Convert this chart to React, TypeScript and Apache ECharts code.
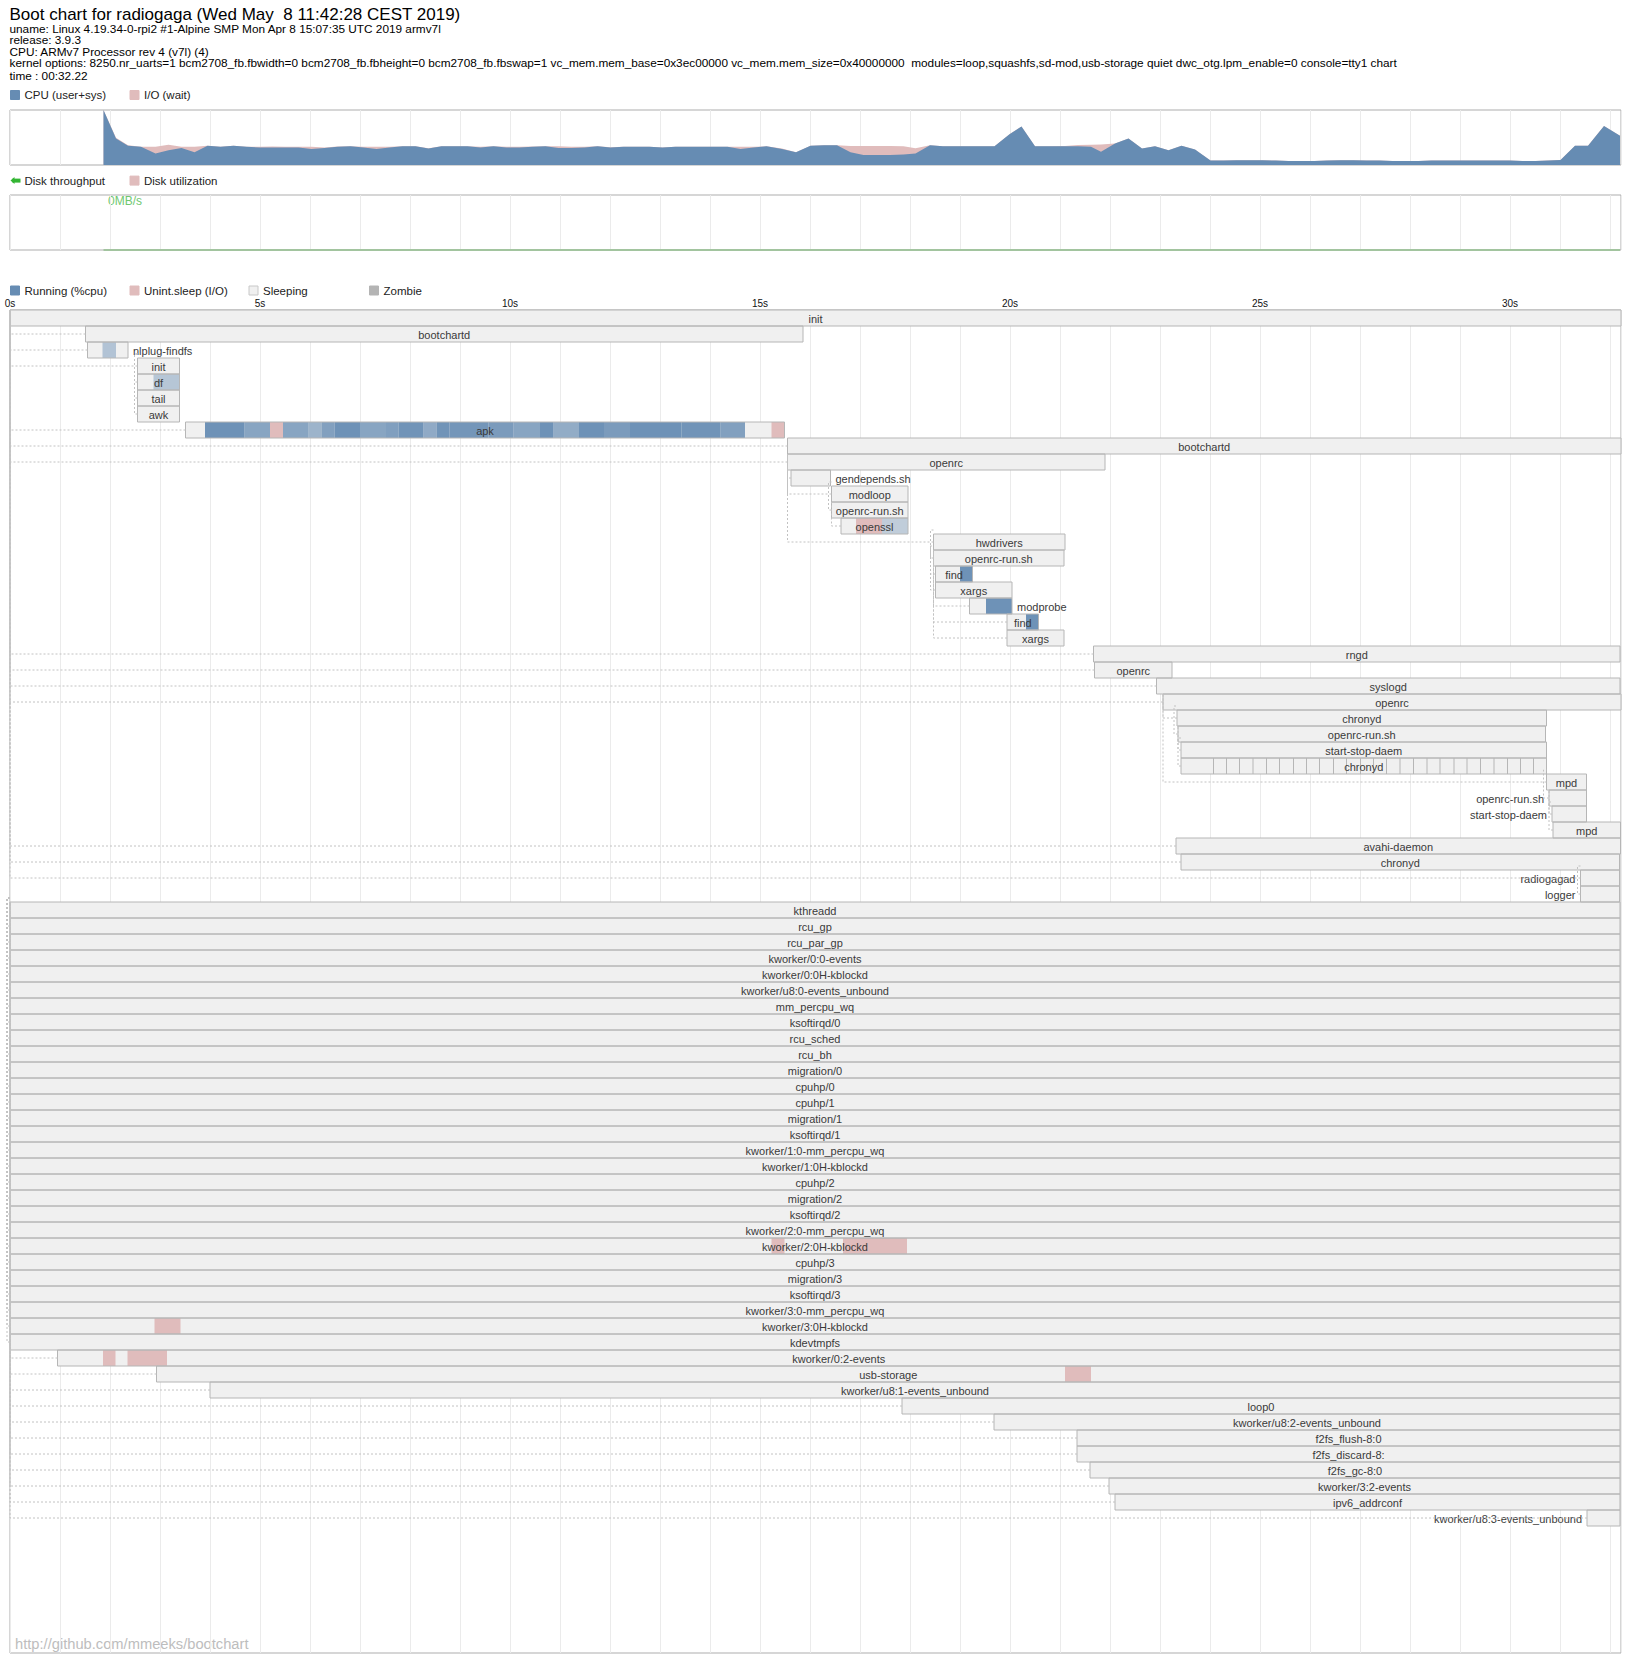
import React, { useEffect, useRef } from 'react';
import * as echarts from 'echarts';

const FONT = '"Liberation Sans", Arial, sans-serif';
const DURATION = 32.22;

const titleText = 'Boot chart for radiogaga (Wed May  8 11:42:28 CEST 2019)';
const headerLines = [
  'uname: Linux 4.19.34-0-rpi2 #1-Alpine SMP Mon Apr 8 15:07:35 UTC 2019 armv7l',
  'release: 3.9.3',
  'CPU: ARMv7 Processor rev 4 (v7l) (4)',
  'kernel options: 8250.nr_uarts=1 bcm2708_fb.fbwidth=0 bcm2708_fb.fbheight=0 bcm2708_fb.fbswap=1 vc_mem.mem_base=0x3ec00000 vc_mem.mem_size=0x40000000  modules=loop,squashfs,sd-mod,usb-storage quiet dwc_otg.lpm_enable=0 console=tty1 chart',
  'time : 00:32.22',
];
const cpuLegend = ['CPU (user+sys)', 'I/O (wait)'];
const diskLegend = ['Disk throughput', 'Disk utilization'];
const procLegend = ['Running (%cpu)', 'Unint.sleep (I/O)', 'Sleeping', 'Zombie'];
const footerText = 'http://github.com/mmeeks/bootchart';
const diskMaxLabel = '0MB/s';

// CPU samples (seconds, % user+sys, % iowait)
const sampleTimes = [
  1.87, 2.12, 2.36, 2.62, 2.91, 3.17, 3.43, 3.69, 3.95, 4.21,
  4.47, 4.73, 4.99, 5.25, 5.51, 5.77, 6.03, 6.29, 6.55, 6.81,
  7.07, 7.33, 7.59, 7.85, 8.11, 8.37, 8.63, 8.89, 9.15, 9.41,
  9.67, 9.93, 10.19, 10.45, 10.71, 10.97, 11.23, 11.49, 11.75, 12.01,
  12.27, 12.53, 12.79, 13.05, 13.31, 13.57, 13.83, 14.09, 14.35, 14.61,
  14.87, 15.13, 15.44, 15.72, 16.01, 16.28, 16.54, 16.81, 17.07, 17.34,
  17.6, 17.87, 18.11, 18.4, 18.66, 18.98, 19.3, 19.69, 19.99, 20.23,
  20.5, 20.78, 21.1, 21.36, 21.62, 21.82, 22.1, 22.37, 22.64, 22.9,
  23.17, 23.43, 23.7, 24.01, 24.27, 24.53, 24.79, 25.05, 25.31, 25.57,
  25.83, 26.09, 26.35, 26.61, 26.87, 27.13, 27.39, 27.65, 27.91, 28.17,
  28.43, 28.69, 28.95, 29.21, 29.47, 29.73, 29.99, 30.25, 30.51, 30.77,
  31.01, 31.3, 31.56, 31.88, 32.2,
];
const cpuUsage = [
  100, 48, 35, 33, 21, 27, 31, 23, 35, 33,
  35, 33, 32, 32, 32, 32, 29, 31, 33, 34,
  32, 29, 32, 34, 34, 30, 34, 34, 34, 32,
  34, 32, 32, 33, 34, 31, 31, 32, 34, 32,
  33, 33, 33, 32, 33, 33, 33, 33, 33, 29,
  32, 34, 29, 23, 35, 36, 36, 23, 18, 18,
  18, 19, 21, 36, 34, 34, 34, 34, 56, 70,
  34, 34, 34, 34, 33, 24, 39, 48, 30, 34,
  27, 35, 28, 8, 8, 8.5, 8.5, 8.5, 8, 7.5,
  7.5, 7.5, 8, 8.5, 8.5, 8, 8, 7.5, 7.5, 7.5,
  8, 8, 8, 8, 8, 8, 8, 7.5, 7.5, 8,
  9, 35, 35, 71, 53,
];
const ioWait = [
  0, 1.5, 1, 0, 12, 10, 2, 10, 0, 0,
  0, 0, 1, 1.5, 1, 1, 4, 1, 0.5, 0,
  1, 4, 1, 0, 0, 0.5, 0, 0, 0, 1,
  0, 1, 1, 0.5, 0, 3, 2, 1, 0, 0.5,
  0, 0, 0, 0, 0, 0, 0, 0, 0, 4,
  1, 0, 1, 0, 0, 0, 0, 11.5, 16.5, 16.5,
  16.5, 15, 9.5, 0, 0, 0, 0, 0, 0, 0,
  0, 0, 0.5, 2.5, 4, 13.5, 0, 0, 0, 0,
  0, 0, 0, 0, 0, 0, 0, 0, 0, 0,
  0, 0, 0, 0, 0, 0, 0, 0, 0, 0,
  0, 0, 0, 0, 0, 0, 0, 0, 0, 0,
  0, 0, 0, 0, 0,
];
const diskTimes = [1.87, 32.2];
const diskThroughput = [0, 0];

// process tree rows
const procNames = [
  'init', 'bootchartd', 'nlplug-findfs', 'init', 'df', 'tail', 'awk', 'apk', 'bootchartd', 'openrc',
  'gendepends.sh', 'modloop', 'openrc-run.sh', 'openssl', 'hwdrivers', 'openrc-run.sh', 'find', 'xargs', 'modprobe', 'find',
  'xargs', 'rngd', 'openrc', 'syslogd', 'openrc', 'chronyd', 'openrc-run.sh', 'start-stop-daem', 'chronyd', 'mpd',
  'openrc-run.sh', 'start-stop-daem', 'mpd', 'avahi-daemon', 'chronyd', 'radiogagad', 'logger', 'kthreadd', 'rcu_gp', 'rcu_par_gp',
  'kworker/0:0-events', 'kworker/0:0H-kblockd', 'kworker/u8:0-events_unbound', 'mm_percpu_wq', 'ksoftirqd/0', 'rcu_sched', 'rcu_bh', 'migration/0', 'cpuhp/0', 'cpuhp/1',
  'migration/1', 'ksoftirqd/1', 'kworker/1:0-mm_percpu_wq', 'kworker/1:0H-kblockd', 'cpuhp/2', 'migration/2', 'ksoftirqd/2', 'kworker/2:0-mm_percpu_wq', 'kworker/2:0H-kblockd', 'cpuhp/3',
  'migration/3', 'ksoftirqd/3', 'kworker/3:0-mm_percpu_wq', 'kworker/3:0H-kblockd', 'kdevtmpfs', 'kworker/0:2-events', 'usb-storage', 'kworker/u8:1-events_unbound', 'loop0', 'kworker/u8:2-events_unbound',
  'f2fs_flush-8:0', 'f2fs_discard-8:', 'f2fs_gc-8:0', 'kworker/3:2-events', 'ipv6_addrconf', 'kworker/u8:3-events_unbound',
];
const procStart = [
  0, 1.51, 1.55, 2.55, 2.55, 2.55, 2.55, 3.51, 15.55, 15.55,
  15.62, 16.43, 16.43, 16.62, 18.47, 18.47, 18.51, 18.51, 19.19, 19.94,
  19.94, 21.67, 21.69, 22.93, 23.06, 23.34, 23.36, 23.42, 23.42, 30.73,
  30.78, 30.84, 30.86, 23.32, 23.42, 31.41, 31.41, 0, 0, 0,
  0, 0, 0, 0, 0, 0, 0, 0, 0, 0,
  0, 0, 0, 0, 0, 0, 0, 0, 0, 0,
  0, 0, 0, 0, 0, 0.95, 2.93, 4.0, 17.84, 19.68,
  21.34, 21.34, 21.6, 21.98, 22.1, 31.54,
];
const procEnd = [
  32.22, 15.86, 2.36, 3.39, 3.39, 3.39, 3.39, 15.49, 32.22, 21.9,
  16.41, 17.96, 17.96, 17.96, 21.1, 21.08, 19.25, 20.04, 20.04, 20.57,
  21.08, 32.2, 23.24, 32.2, 32.22, 30.73, 30.71, 30.73, 30.73, 31.53,
  31.53, 31.53, 32.21, 32.21, 32.19, 32.19, 32.19, 32.2, 32.2, 32.2,
  32.2, 32.2, 32.2, 32.2, 32.2, 32.2, 32.2, 32.2, 32.2, 32.2,
  32.2, 32.2, 32.2, 32.2, 32.2, 32.2, 32.2, 32.2, 32.2, 32.2,
  32.2, 32.2, 32.2, 32.2, 32.2, 32.2, 32.2, 32.2, 32.2, 32.2,
  32.2, 32.2, 32.2, 32.2, 32.2, 32.2,
];
const procParent = [
  -1, 0, 0, 0, 3, 3, 3, 0, 0, 0,
  9, 9, 11, 12, 9, 14, 15, 15, 15, 15,
  15, 0, 0, 0, 0, 24, 25, 26, 27, 24,
  29, 30, 31, 0, 0, 0, 35, -1, 37, 37,
  37, 37, 37, 37, 37, 37, 37, 37, 37, 37,
  37, 37, 37, 37, 37, 37, 37, 37, 37, 37,
  37, 37, 37, 37, 37, 37, 37, 37, 37, 37,
  37, 37, 37, 37, 37, 37,
];
// running samples: [row, start, end, cpu fraction]
const runSegments = [
  [2, 1.85, 2.12, 0.45], [4, 2.87, 3.39, 0.42],
  [7, 3.9, 4.69, 0.95], [7, 4.69, 5.2, 0.75], [7, 5.46, 5.97, 0.75], [7, 5.97, 6.23, 0.6],
  [7, 6.23, 6.49, 0.8], [7, 6.49, 7.0, 0.95], [7, 7.0, 7.52, 0.75], [7, 7.52, 7.77, 0.82],
  [7, 7.77, 8.27, 0.92], [7, 8.27, 8.53, 0.7], [7, 8.53, 8.79, 0.92], [7, 8.79, 9.57, 0.9],
  [7, 9.57, 10.07, 0.85], [7, 10.07, 10.6, 0.75], [7, 10.6, 10.87, 0.95], [7, 10.87, 11.38, 0.68],
  [7, 11.38, 11.88, 0.95], [7, 11.88, 12.4, 0.85], [7, 12.4, 13.43, 0.95], [7, 13.43, 14.21, 0.92],
  [7, 14.21, 14.7, 0.8],
  [13, 17.44, 17.96, 0.35], [16, 19.0, 19.26, 0.95], [18, 19.52, 20.04, 0.95], [19, 20.32, 20.57, 0.95],
];
// uninterruptible sleep samples: [row, start, end]
const ioSegments = [
  [7, 5.2, 5.46], [7, 15.23, 15.49], [13, 16.92, 17.44], [58, 15.23, 15.49], [58, 16.66, 17.94],
  [63, 2.89, 3.41], [65, 1.86, 2.11], [65, 2.35, 3.14], [66, 21.1, 21.62],
];
const tickRow = 28;
const tickTimes = [
  24.07, 24.33, 24.59, 24.86, 25.13, 25.39, 25.67, 25.93, 26.19, 26.47,
  26.73, 27.01, 27.27, 27.53, 27.8, 28.07, 28.34, 28.6, 28.88, 29.14,
  29.41, 29.68, 29.95, 30.21, 30.47,
];

const CPU_BLUE = '#668cb3';
const IO_PINK = '#e0bcbc';
const SLEEP_FILL = '#f0f0f0';
const ZOMBIE_FILL = '#b4b4b4';
const PROC_BORDER = '#b6b6b6';
const GRID_BORDER = '#adadad';
const TICK_COLOR = '#ebebeb';
const DEP_COLOR = '#c2c2c2';
const LABEL_COLOR = '#3a3a3a';
const ROW_H = 16;
const PROC_TOP = 310;
const PROC_H = 1343;

let measureCtx: any = null;
function textWidth(s: string, size: number) {
  if (!measureCtx) measureCtx = document.createElement('canvas').getContext('2d');
  measureCtx.font = `${size}px ${FONT}`;
  return measureCtx.measureText(s).width;
}

function legendItems(labels: string[], xs: number[], y: number, colors: string[], kinds: string[]) {
  const els: any[] = [];
  labels.forEach((lab, i) => {
    if (kinds[i] === 'arrow') {
      els.push({ type: 'rect', shape: { x: xs[i] + 2, y: y - 2, width: 8, height: 4 }, style: { fill: colors[i] } });
      els.push({ type: 'polygon', shape: { points: [[xs[i], y], [xs[i] + 4, y - 3.5], [xs[i] + 4, y + 3.5]] }, style: { fill: colors[i] } });
    } else {
      els.push({ type: 'rect', shape: { x: xs[i], y: y - 4.5, width: 9, height: 9 }, style: { fill: colors[i], stroke: kinds[i] === 'sleep' ? '#c8c8c8' : colors[i], lineWidth: 1 } });
    }
    els.push({ type: 'text', x: xs[i] + 14, y, style: { text: lab, fill: '#222', fontSize: 11.5, fontFamily: FONT, align: 'left', verticalAlign: 'middle' } });
  });
  return els;
}

export default function App() {
  const ref = useRef<HTMLDivElement>(null);
  useEffect(() => {
    if (!ref.current) return;
    const chart = echarts.init(ref.current, null, { renderer: 'svg' });
    const legendX = [10.5, 130, 249, 369.5];

    const graphics: any[] = [
      { type: 'text', x: 9.5, y: 14, style: { text: titleText, fill: '#000', fontSize: 17, fontFamily: FONT, align: 'left', verticalAlign: 'middle' } },
      ...headerLines.map((t, i) => ({
        type: 'text', x: 9.5, y: [28.5, 40, 51.7, 63.4, 76][i],
        style: { text: t, fill: '#000', fontSize: 11.8, fontFamily: FONT, align: 'left', verticalAlign: 'middle' },
      })),
      ...legendItems(cpuLegend, legendX, 95, [CPU_BLUE, IO_PINK], ['box', 'box']),
      ...legendItems(diskLegend, legendX, 180.6, ['#33b533', IO_PINK], ['arrow', 'box']),
      ...legendItems(procLegend, legendX, 290.5, [CPU_BLUE, IO_PINK, SLEEP_FILL, ZOMBIE_FILL], ['box', 'box', 'sleep', 'box']),
      { type: 'text', x: 108, y: 200.5, style: { text: diskMaxLabel, fill: '#70c870', fontSize: 12, fontFamily: FONT, align: 'left', verticalAlign: 'middle' } },
      { type: 'text', x: 15, y: 1643.5, style: { text: footerText, fill: '#bdbdbd', fontSize: 14.7, fontFamily: FONT, align: 'left', verticalAlign: 'middle' } },
    ];

    const procData = procNames.map((n, i) => [procStart[i], procEnd[i], i]);
    const runData = runSegments.map((s) => [s[1], s[2], s[0], s[3]]);
    const ioData = ioSegments.map((s) => [s[1], s[2], s[0]]);
    const depData: number[][] = [];
    procParent.forEach((p, i) => {
      if (p >= 0) depData.push([procStart[i], procStart[p], i, p]);
    });
    const tickData = tickTimes.map((t) => [t, tickRow]);

    const option: any = {
      animation: false,
      backgroundColor: '#ffffff',
      grid: [
        { left: 10, top: 110, width: 1611, height: 55, show: true, borderColor: GRID_BORDER, borderWidth: 1 },
        { left: 10, top: 195, width: 1611, height: 55, show: true, borderColor: GRID_BORDER, borderWidth: 1 },
        { left: 10, top: PROC_TOP, width: 1611, height: PROC_H, show: true, borderColor: GRID_BORDER, borderWidth: 1 },
      ],
      xAxis: [0, 1, 2].map((i) => ({
        type: 'value', gridIndex: i, min: 0, max: DURATION, interval: 1, position: 'top',
        axisLine: { show: false }, axisTick: { show: false },
        splitLine: { show: true, lineStyle: { color: TICK_COLOR, width: 1 } },
        axisLabel: i === 2
          ? {
              show: true, margin: 2, fontSize: 10, fontFamily: FONT, color: '#111',
              formatter: (v: number) => (Math.abs(v - Math.round(v / 5) * 5) < 1e-6 && v < DURATION - 0.5 ? `${Math.round(v)}s` : ''),
            }
          : { show: false },
      })),
      yAxis: [
        { type: 'value', gridIndex: 0, min: 0, max: 100, show: false },
        { type: 'value', gridIndex: 1, min: 0, max: 1, show: false },
        { type: 'value', gridIndex: 2, min: 0, max: PROC_H / ROW_H, inverse: true, show: false },
      ],
      series: [
        {
          type: 'line', xAxisIndex: 0, yAxisIndex: 0, silent: true, symbol: 'none', z: 2,
          data: sampleTimes.map((t, i) => [t, cpuUsage[i] + ioWait[i]]),
          lineStyle: { width: 0, opacity: 0 }, areaStyle: { color: IO_PINK, opacity: 1 },
        },
        {
          type: 'line', xAxisIndex: 0, yAxisIndex: 0, silent: true, symbol: 'none', z: 3,
          data: sampleTimes.map((t, i) => [t, cpuUsage[i]]),
          lineStyle: { width: 0, opacity: 0 }, areaStyle: { color: CPU_BLUE, opacity: 1 },
        },
        {
          type: 'line', xAxisIndex: 1, yAxisIndex: 1, silent: true, symbol: 'none', clip: false, z: 3,
          data: diskTimes.map((t, i) => [t, diskThroughput[i]]),
          lineStyle: { color: '#a2c49f', width: 2 },
        },
        {
          type: 'custom', xAxisIndex: 2, yAxisIndex: 2, silent: true, z: 2,
          data: procData, encode: { x: [0, 1], y: 2 },
          renderItem: (params: any, api: any) => {
            const s = api.value(0), e = api.value(1), r = api.value(2);
            const p0 = api.coord([s, r]); const p1 = api.coord([e, r + 1]);
            return { type: 'rect', shape: { x: p0[0], y: p0[1], width: p1[0] - p0[0], height: p1[1] - p0[1] }, style: { fill: SLEEP_FILL } };
          },
        },
        {
          type: 'custom', xAxisIndex: 2, yAxisIndex: 2, silent: true, z: 3,
          data: runData, encode: { x: [0, 1], y: 2 },
          renderItem: (params: any, api: any) => {
            const s = api.value(0), e = api.value(1), r = api.value(2), a = api.value(3);
            const p0 = api.coord([s, r]); const p1 = api.coord([e, r + 1]);
            return { type: 'rect', shape: { x: p0[0], y: p0[1], width: p1[0] - p0[0], height: p1[1] - p0[1] }, style: { fill: `rgba(102,140,179,${a})` } };
          },
        },
        {
          type: 'custom', xAxisIndex: 2, yAxisIndex: 2, silent: true, z: 3,
          data: ioData, encode: { x: [0, 1], y: 2 },
          renderItem: (params: any, api: any) => {
            const s = api.value(0), e = api.value(1), r = api.value(2);
            const p0 = api.coord([s, r]); const p1 = api.coord([e, r + 1]);
            return { type: 'rect', shape: { x: p0[0], y: p0[1], width: p1[0] - p0[0], height: p1[1] - p0[1] }, style: { fill: IO_PINK } };
          },
        },
        {
          type: 'custom', xAxisIndex: 2, yAxisIndex: 2, silent: true, z: 4,
          data: tickData, encode: { x: 0, y: 1 },
          renderItem: (params: any, api: any) => {
            const t = api.value(0), r = api.value(1);
            const p0 = api.coord([t, r]); const p1 = api.coord([t, r + 1]);
            return { type: 'line', shape: { x1: p0[0], y1: p0[1], x2: p1[0], y2: p1[1] }, style: { stroke: PROC_BORDER, lineWidth: 1 } };
          },
        },
        {
          type: 'custom', xAxisIndex: 2, yAxisIndex: 2, silent: true, z: 5,
          data: procData, encode: { x: [0, 1], y: 2 },
          renderItem: (params: any, api: any) => {
            const s = api.value(0), e = api.value(1), r = api.value(2);
            const p0 = api.coord([s, r]); const p1 = api.coord([e, r + 1]);
            const w = p1[0] - p0[0];
            const maxx = api.coord([DURATION, 0])[0];
            const name = procNames[r];
            const lw = textWidth(name, 11);
            const fitW = textWidth(name, 10.5);
            let lx = p0[0] + w / 2 - lw / 2;
            if (fitW + 10 > w) lx = p0[0] + w + 5;
            if (lx + lw > maxx) lx = p0[0] - lw - 5;
            return {
              type: 'group',
              children: [
                { type: 'rect', shape: { x: p0[0], y: p0[1], width: w, height: p1[1] - p0[1] }, style: { fill: 'none', stroke: PROC_BORDER, lineWidth: 1 } },
                { type: 'text', style: { text: name, x: lx, y: (p0[1] + p1[1]) / 2 + 0.5, fill: LABEL_COLOR, fontSize: 11, fontFamily: FONT, align: 'left', verticalAlign: 'middle' } },
              ],
            };
          },
        },
        {
          type: 'custom', xAxisIndex: 2, yAxisIndex: 2, silent: true, z: 6, clip: false,
          data: depData, encode: { x: 0, y: 2 },
          renderItem: (params: any, api: any) => {
            const cs = api.value(0), ps = api.value(1), r = api.value(2), pr = api.value(3);
            const cx = api.coord([cs, r])[0];
            const cy = api.coord([cs, r + 0.5])[1];
            const pp = api.coord([ps, pr]);
            const px = pp[0], py = pp[1];
            let pts;
            if (Math.abs(px - cx) < 3) pts = [[cx, cy], [px - 3, cy], [px - 3, py - ROW_H / 4], [px, py - ROW_H / 4]];
            else pts = [[cx, cy], [px, cy], [px, py]];
            return { type: 'polyline', shape: { points: pts }, style: { stroke: DEP_COLOR, lineWidth: 1, lineDash: [2, 2], fill: null } };
          },
        },
      ],
      graphic: { elements: graphics },
    };
    chart.setOption(option);
    return () => chart.dispose();
  }, []);
  return <div ref={ref} style={{ position: 'absolute', left: 0, top: 0, width: 1631, height: 1656, background: '#fff' }} />;
}
